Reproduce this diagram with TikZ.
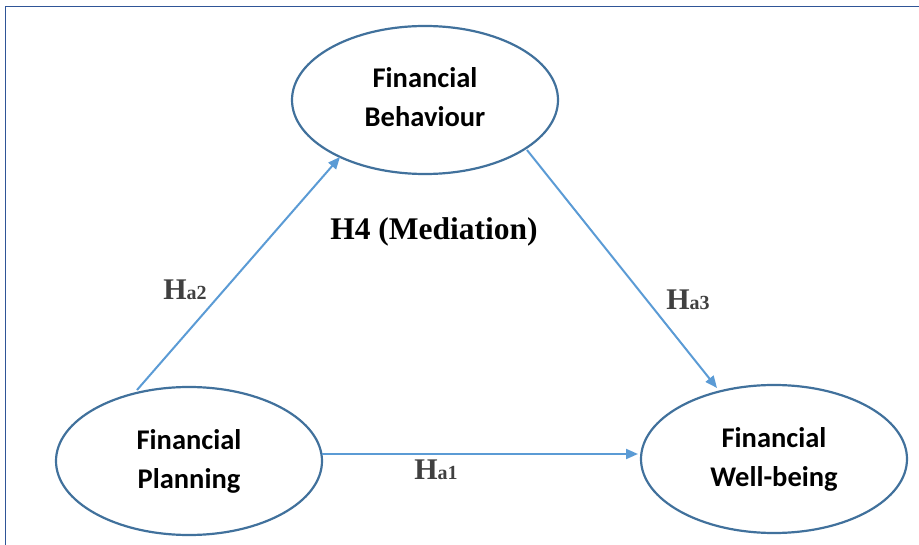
\documentclass[tikz,border=0pt]{standalone}
\usepackage{fontspec}
\setmainfont{Liberation Serif}
\newfontfamily\calfont{Carlito}
\usetikzlibrary{shapes.geometric,arrows.meta}
\definecolor{ellc}{HTML}{41719C}
\definecolor{arrc}{HTML}{5B9BD5}
\definecolor{framec}{HTML}{2F5597}
\definecolor{labc}{HTML}{404040}
\tikzset{
  var/.style={ellipse,draw=ellc,line width=2.2pt,minimum width=266pt,minimum height=148pt,
    font=\calfont\bfseries\fontsize{28.5}{39}\selectfont,align=center,inner sep=0pt},
  conn/.style={draw=arrc,line width=2pt,-{Triangle[length=12pt,width=10pt]}},
  hlab/.style={text=labc,font=\bfseries,inner sep=0pt}
}
\newcommand{\hyp}[1]{{\fontsize{30}{30}\selectfont H}{\fontsize{20}{20}\selectfont #1}}
\begin{document}
\begin{tikzpicture}[x=1pt,y=-1pt]
\useasboundingbox (0,0) rectangle (919,545);
\draw[framec,line width=1.6pt] (5.5,545) -- (5.5,6.5) -- (919,6.5);
\node[var] (fb) at (425,100) {};
\node[font=\calfont\bfseries\fontsize{28.5}{39}\selectfont,align=center,inner sep=0pt] (fbt) at (425,97) {Financial\\Behaviour};
\node[var] (fp) at (189,461) {Financial\\Planning};
\node[var] (fw) at (774,459) {Financial\\Well-being};
\coordinate (a2s) at (137,390);
\coordinate (a2e) at (340,157);
\coordinate (a3s) at (527,150);
\coordinate (a3e) at (717,388);
\coordinate (a1s) at (322,454);
\coordinate (a1e) at (638,454);
\draw[conn] (a2s) -- (a2e);
\draw[conn] (a3s) -- (a3e);
\draw[conn] (a1s) -- (a1e);
\node[hlab] (h2) at (185,290) {\hyp{a2}};
\node[hlab] (h3) at (688,300) {\hyp{a3}};
\node[hlab] (h1) at (436,470) {\hyp{a1}};
\node[font=\bfseries\fontsize{31.5}{31.5}\selectfont,inner sep=0pt] (h4) at (434,232) {H4 (Mediation)};
\end{tikzpicture}
\end{document}
